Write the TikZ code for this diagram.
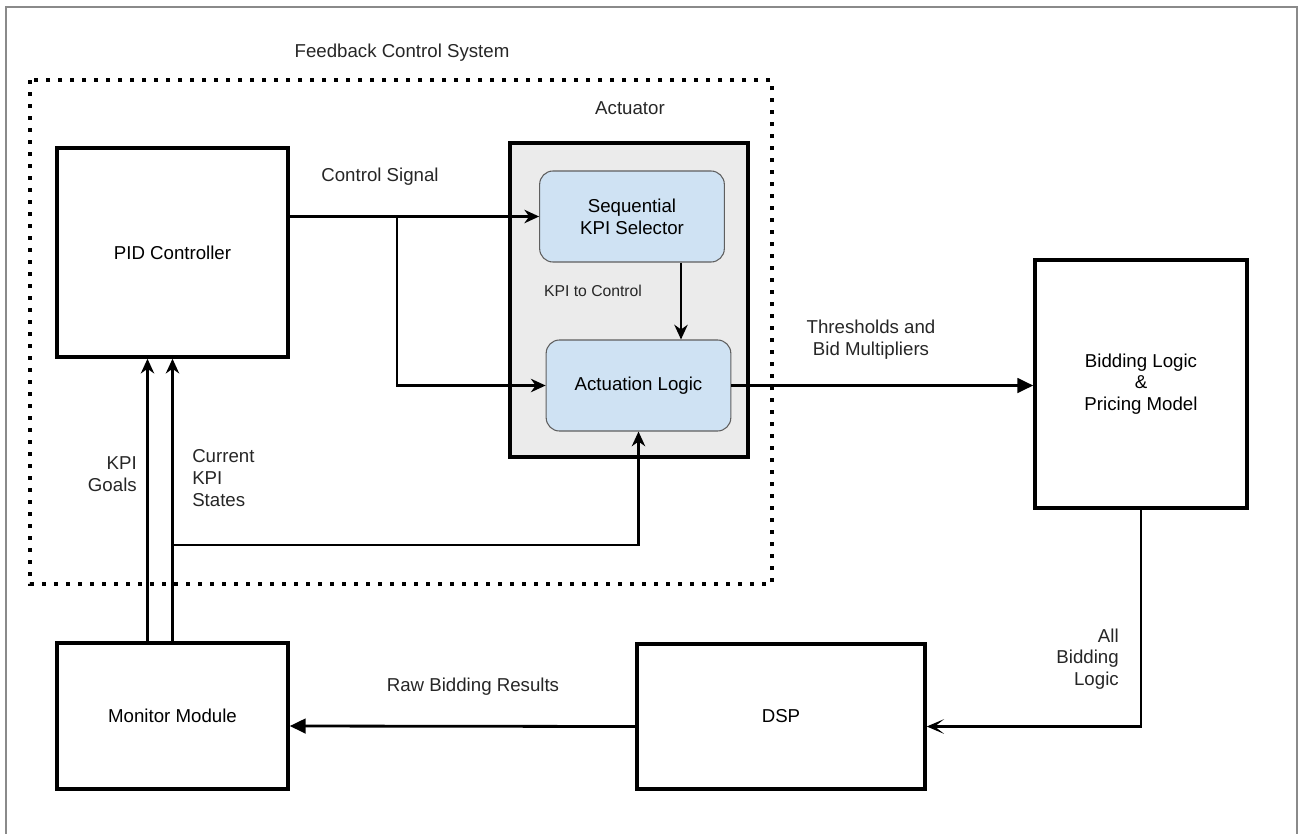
\documentclass[tikz,border=0pt]{standalone}
\usepackage{fontspec}
\setmainfont{Liberation Sans}
\usetikzlibrary{arrows.meta,positioning}
\definecolor{panelgray}{HTML}{EBEBEB}
\definecolor{logicblue}{HTML}{CFE2F3}
\definecolor{edgegray}{HTML}{5F5F5F}
\definecolor{framegray}{HTML}{8A8A8A}

\begin{document}
\begin{tikzpicture}
      [x=0.75pt, y=-0.75pt,
      font=\fontsize{14pt}{16.3pt}\selectfont,
      block style/.style={draw, line width=2.6pt, rectangle, align=center, inner sep=0pt, fill=white},
      panel style/.style={draw, line width=2.6pt, rectangle, fill=panelgray, minimum width=178.5pt, minimum height=235.5pt},
      logic style/.style={draw=edgegray, line width=0.8pt, rectangle, rounded corners=10pt, align=center, fill=logicblue, inner sep=0pt, minimum width=138.5pt, minimum height=68.25pt},
      label style/.style={align=center, inner sep=0pt, text=black!85},
      line style/.style={draw, line width=2.1pt, -{Stealth[length=11pt, width=10pt, inset=3.5pt]}},
      bold line style/.style={draw, line width=2.1pt, -{Triangle[length=12pt, width=11pt]}},
      thin line style/.style={draw, line width=2.1pt, -{Stealth[length=13pt, width=11pt, inset=7pt]}},
      ]

      \useasboundingbox (0,0) rectangle (1300,833);
      \draw[framegray, line width=0.8pt] (6,850) |- (1297,7) -- (1297,850);

      % feedback control system
      \draw[line width=2.8pt, dash pattern=on 2.8pt off 6.2pt] (30,80) rectangle (772,584);
      \node[label style] (fcs) at (402,53) {Feedback Control System};

      \node[block style, minimum width=173.25pt, minimum height=156.75pt] (pid) at (172.5,252.5) {PID Controller};

      % actuator
      \node[panel style] (actuator) at (629,300) {};
      \node[label style] (actlabel) at (630,108) {Actuator};
      \node[logic style] (selector) at (632,216.5) {Sequential\\KPI Selector};
      \node[logic style] (actuation) at (638.5,385.5) {Actuation Logic};
      \node[label style, font=\fontsize{11.8pt}{14pt}\selectfont] (kpictrl) at (593,291) {KPI to Control};

      \node[block style, minimum width=159pt, minimum height=186pt] (bidding) at (1141,384) {Bidding Logic\\\&\\Pricing Model};
      \node[block style, minimum width=216pt, minimum height=108.75pt] (dsp) at (781,716.5) {DSP};
      \node[block style, minimum width=173.25pt, minimum height=109.5pt] (monitor) at (172.5,716) {Monitor Module};

      % connectors
      \coordinate (split) at (397,217);
      \coordinate (tap) at (172,545);
      \draw[line style] (selector.west -| pid.east) -- (selector.west);
      \draw[line style] (split) |- (actuation.west);
      \draw[line style] (selector.south -| 681,0) -- (actuation.north -| 681,0);
      \draw[bold line style] (actuation.east) -- (actuation.east -| bidding.west);
      \draw[thin line style] (bidding.south) |- ([yshift=-7.5pt]dsp.east);
      \draw[bold line style] ([yshift=-7.5pt]dsp.west) -- ([yshift=-7.5pt]monitor.east);
      \draw[line style] ([xshift=-18.75pt]monitor.north) -- ([xshift=-18.75pt]pid.south);
      \draw[line style] (monitor.north) -- (pid.south);
      \draw[line style] (tap) -| (actuation.south);

      % connector labels
      \node[label style] (ctrlsig) at (380,177) {Control Signal};
      \node[label style] (thresh) at (871,340) {Thresholds and\\Bid Multipliers};
      \node[label style, align=right, anchor=east] (goals) at (137,474) {KPI\\Goals};
      \node[label style, align=left, anchor=west] (states) at (192,478) {Current\\KPI\\States};
      \node[label style] (raw) at (473,687) {Raw Bidding Results};
      \node[label style, align=right, anchor=east] (allbid) at (1119,659) {All\\Bidding\\Logic};
\end{tikzpicture}
\end{document}
